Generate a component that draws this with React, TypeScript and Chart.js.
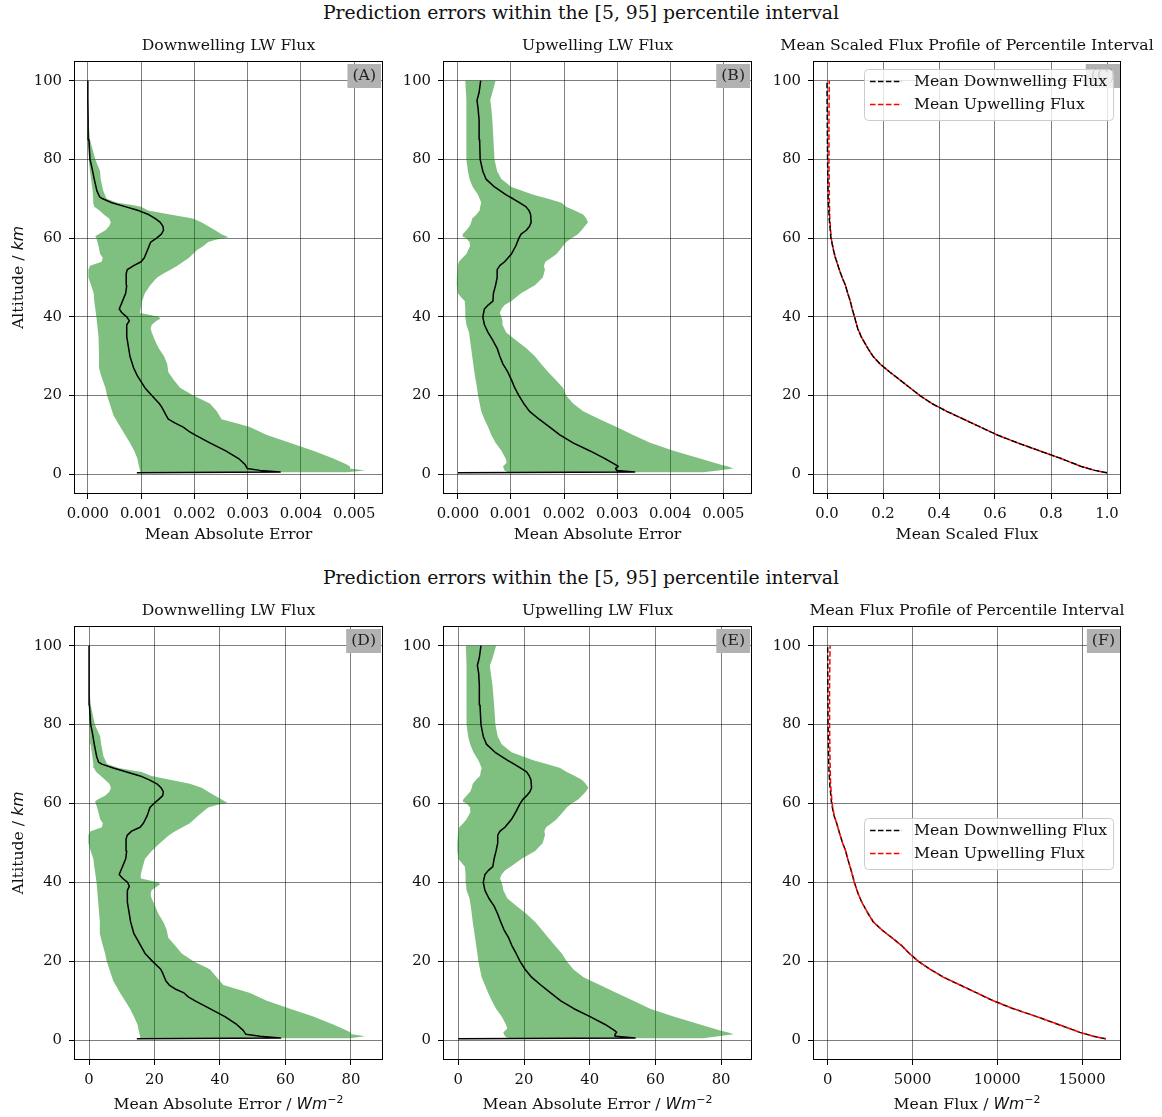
import React, { useEffect, useRef } from 'react';
import { Chart, registerables } from 'chart.js';

Chart.register(...registerables);

const SERIF = "'DejaVu Serif', serif";
const SANS = "'DejaVu Sans', sans-serif";
const FS = 15.7;      // titles, axis labels, legend
const FS_TICK = 14.8; // tick labels
const TXT = '#111';

type Pair = [number, number]; // [altitude km, value]

// ---------- tick values ----------
const Y_TICKS = [0, 20, 40, 60, 80, 100];
const X_TICKS_MAE = [0, 0.001, 0.002, 0.003, 0.004, 0.005];
const X_TICKS_SCALED = [0, 0.2, 0.4, 0.6, 0.8, 1.0];
const X_TICKS_MAE_W = [0, 20, 40, 60, 80];
const X_TICKS_FLUX = [0, 5000, 10000, 15000];

// ---------- (A) downwelling, scaled MAE ----------
const A_MEAN: Pair[] = [
  [0.4, 0.00092], [0.6, 0.00361], [1, 0.00323], [1.5, 0.00299], [2.5, 0.00295], [4, 0.00283], [6, 0.00258],
  [8, 0.00229], [10, 0.00201], [11, 0.00189], [12, 0.00179], [13, 0.00164], [14, 0.00151], [15, 0.00147],
  [17, 0.00139], [18, 0.00134], [20, 0.0012], [22, 0.00107], [25, 0.00093], [27, 0.00086], [30, 0.00079],
  [35, 0.00073], [38, 0.00073], [39, 0.00078], [40, 0.00073], [41, 0.00064], [42, 0.00059], [44, 0.00065],
  [46, 0.00071], [48, 0.00073], [50, 0.00072], [51, 0.00072], [52, 0.00074], [53, 0.00086], [54, 0.001],
  [55, 0.00106], [57, 0.00112], [59, 0.00118], [60, 0.00129], [61, 0.00138], [62, 0.00142], [63, 0.00141],
  [64, 0.00136], [65, 0.00126], [66, 0.00114], [67, 0.00095], [68, 0.0007], [69, 0.00045], [70, 0.00028],
  [70.5, 0.00022], [72, 0.00017], [75, 0.00012], [78, 0.000075], [80, 0.00004], [85, 0.00002], [90, 0.000005],
  [95, 0], [100, 0],
];
const A_LOW: Pair[] = [
  [0.5, 0.00098], [1, 0.00098], [2, 0.00096], [4, 0.00093], [6, 0.00087], [8, 0.00079], [10, 0.0007],
  [12, 0.00061], [15, 0.00048], [18, 0.00041], [20, 0.00036], [22, 0.00033], [25, 0.00025], [27, 0.00021],
  [30, 0.00021], [35, 0.0002], [40, 0.00016], [44, 0.00012], [46, 0.00011], [48, 0.00006], [50, 0.00001],
  [52, 0.00001], [53, 0.00004], [54, 0.00026], [55, 0.00028], [56, 0.00023], [58, 0.0002], [60, 0.00016],
  [60.5, 0.00014], [61, 0.0002], [62, 0.00033], [63, 0.0004], [64, 0.00043], [65, 0.0004], [66, 0.0003],
  [67, 0.00022], [68, 0.00012], [69, 0.0001], [70, 0.0001], [72, 0.00009], [75, 0.00006], [78, 0.00003],
  [80, 0.00002], [85, 0], [100, 0],
];
const A_HIGH: Pair[] = [
  [0.5, 0.00486], [1, 0.0052], [1.5, 0.00492], [2, 0.00492], [2.5, 0.00486], [4, 0.00461], [6, 0.00423],
  [8, 0.00379], [10, 0.00336], [12, 0.00304], [13, 0.00279], [14, 0.00251], [16, 0.00242], [18, 0.00229],
  [20, 0.00198], [22, 0.00173], [24, 0.00161], [26, 0.00151], [28, 0.00149], [30, 0.00143], [32, 0.00133],
  [34, 0.00126], [36, 0.0012], [37, 0.00118], [38, 0.0012], [39, 0.00129], [39.5, 0.00136], [40, 0.00133],
  [40.5, 0.00117], [41, 0.00098], [42, 0.00099], [44, 0.00102], [46, 0.00107], [48, 0.00117], [50, 0.0013],
  [51, 0.00142], [52, 0.00155], [53, 0.00168], [55, 0.0019], [57, 0.00205], [58, 0.00217], [59, 0.00226],
  [59.6, 0.0024], [60.2, 0.00264], [61, 0.00251], [62, 0.00239], [63, 0.00226], [64, 0.00214], [65, 0.00197],
  [66, 0.00154], [67, 0.00113], [68, 0.001], [68.5, 0.0008], [69, 0.00055], [70, 0.00035], [72, 0.00029],
  [75, 0.00024], [77, 0.00023], [80, 0.00014], [85, 0.00004], [90, 0.00001], [100, 0],
];

// ---------- (B) upwelling, scaled MAE ----------
const B_MEAN: Pair[] = [
  [0.4, 0], [0.6, 0.00333], [1, 0.00299], [1.5, 0.00297], [2, 0.00302], [2.5, 0.00296], [4, 0.00277],
  [6, 0.00248], [8, 0.00217], [10, 0.00192], [12, 0.00173], [14, 0.00153], [16, 0.00135], [18, 0.00124],
  [20, 0.00115], [22, 0.00107], [24, 0.00101], [26, 0.00094], [28, 0.00085], [30, 0.00079], [32, 0.00074],
  [34, 0.00066], [36, 0.00057], [38, 0.0005], [40, 0.00047], [42, 0.0005], [43, 0.00057], [44, 0.00066],
  [46, 0.00067], [48, 0.00071], [50, 0.00074], [52, 0.00074], [53, 0.00079], [54, 0.00088], [56, 0.00101],
  [58, 0.00109], [60, 0.00115], [61, 0.00119], [62, 0.00129], [63, 0.00135], [64, 0.00138], [66, 0.00137],
  [67, 0.00134], [68, 0.00128], [69, 0.00116], [70, 0.00104], [71, 0.00091], [73, 0.00069], [75, 0.00053],
  [77, 0.00047], [80, 0.00042], [85, 0.00041], [90, 0.0004], [93, 0.00038], [95, 0.00036], [97, 0.0004],
  [100, 0.00043],
];
const B_LOW: Pair[] = [
  [0.5, 0.00094], [1, 0.00088], [2, 0.00085], [3, 0.00092], [4, 0.0009], [6, 0.00082], [8, 0.00071],
  [10, 0.00063], [12, 0.00057], [14, 0.0005], [16, 0.00044], [20, 0.00038], [22, 0.00036], [26, 0.00031],
  [30, 0.00027], [34, 0.00023], [36, 0.00021], [38, 0.00016], [40, 0.00014], [42, 0.00014], [44, 0.00013],
  [45, 0.00006], [46, 0], [48, -0.00002], [50, -0.00002], [53, 0], [54, 0.00002], [55, 0.00009], [56, 0.00016],
  [58, 0.00023], [59, 0.00022], [60, 0.00016], [60.5, 0.00008], [61, 0.00009], [62, 0.00016], [63, 0.00022],
  [64, 0.00025], [65, 0.00027], [66, 0.00035], [67, 0.00041], [68, 0.00042], [69, 0.00044], [70, 0.00041],
  [71, 0.00038], [73, 0.00028], [75, 0.00022], [77, 0.00019], [80, 0.00016], [85, 0.00016], [90, 0.00016],
  [95, 0.00016], [100, 0.00014],
];
const B_HIGH: Pair[] = [
  [0.5, 0.00462], [1, 0.00491], [1.5, 0.00519], [2, 0.00509], [2.5, 0.00494], [4, 0.00456], [6, 0.00406],
  [8, 0.00362], [10, 0.0033], [12, 0.00299], [14, 0.00267], [16, 0.00236], [18, 0.00217], [20, 0.00204],
  [22, 0.00198], [24, 0.00184], [26, 0.0017], [28, 0.00157], [30, 0.00145], [32, 0.00129], [34, 0.0011],
  [36, 0.00091], [38, 0.00084], [39, 0.00084], [40, 0.00082], [41, 0.00079], [42, 0.00082], [43, 0.00088],
  [44, 0.00101], [46, 0.00119], [48, 0.00145], [50, 0.0016], [52, 0.00164], [53, 0.00162], [54, 0.00165],
  [55, 0.00176], [56, 0.00186], [58, 0.00198], [59, 0.00204], [60, 0.00214], [61, 0.00226], [62, 0.00233],
  [63, 0.00239], [64, 0.00245], [65, 0.00242], [66, 0.00236], [67, 0.0022], [68, 0.00204], [69, 0.00195],
  [70, 0.0017], [71, 0.00142], [73, 0.00101], [75, 0.00082], [77, 0.00074], [80, 0.00069], [85, 0.00067],
  [90, 0.00065], [93, 0.00063], [95, 0.00061], [97, 0.00065], [100, 0.00071],
];

// ---------- (C) mean scaled flux profile ----------
const C_ALT = [0.4, 1, 2, 4, 6, 8, 10, 12, 14, 16, 18, 20, 22, 24, 26, 28, 30, 32, 35, 37, 40, 42, 44, 46, 48, 50, 52, 55, 57, 60, 65, 70, 80, 90, 100];
const C_DOWN = [1.0, 0.956, 0.908, 0.836, 0.758, 0.68, 0.608, 0.548, 0.488, 0.428, 0.374, 0.332, 0.296, 0.26, 0.224, 0.19, 0.164, 0.146, 0.122, 0.11, 0.098, 0.09, 0.083, 0.074, 0.066, 0.054, 0.044, 0.03, 0.023, 0.014, 0.008, 0.004, 0.002, 0.001, 0.0];
const C_UP = [1.0, 0.956, 0.908, 0.836, 0.758, 0.68, 0.608, 0.548, 0.488, 0.428, 0.374, 0.332, 0.296, 0.26, 0.224, 0.19, 0.164, 0.146, 0.122, 0.11, 0.098, 0.09, 0.083, 0.074, 0.066, 0.054, 0.044, 0.03, 0.023, 0.015, 0.01, 0.008, 0.007, 0.007, 0.008];

// ---------- (D) downwelling, MAE in W m-2 ----------
const D_MEAN: Pair[] = [
  [0.4, 14.6], [0.6, 58.5], [1, 52.2], [1.5, 47.9], [2.5, 47.1], [4, 45.1], [6, 41.5], [8, 36.9], [10, 32.4],
  [11, 30.3], [12, 29], [13, 26.3], [14, 24.5], [15, 23.5], [17, 22.5], [18, 21.9], [20, 19.4], [22, 17.1],
  [25, 15.1], [27, 13.7], [30, 12.7], [35, 11.7], [38, 11.7], [39, 12.3], [40, 11.8], [41, 10.3], [42, 9.2],
  [44, 10.2], [46, 11.2], [48, 11.5], [50, 11.3], [51, 11.3], [52, 11.7], [53, 13], [54, 15.6], [55, 16.6],
  [57, 17.8], [59, 18.6], [60, 19.8], [61, 21.2], [62, 22.5], [63, 22.7], [64, 22], [65, 20.7], [66, 18.4],
  [67, 15.6], [68, 11.5], [69, 7.4], [70, 3.9], [70.5, 2.9], [72, 2.3], [75, 1.6], [78, 1.0], [80, 0.5],
  [85, 0.1], [90, 0], [100, 0],
];
const D_LOW: Pair[] = [
  [0.5, 15.6], [1, 15.6], [2, 15.3], [4, 14.8], [6, 13.7], [8, 12.5], [10, 11], [12, 9.5], [15, 7.4], [18, 6.2],
  [20, 5.4], [22, 4.9], [25, 3.9], [27, 3.3], [30, 3.3], [35, 2.8], [40, 2.3], [44, 1.6], [46, 1.3], [48, 0.5],
  [50, -0.2], [52, -0.2], [53, 0.5], [54, 3.9], [55, 4.2], [56, 3.4], [58, 2.8], [60, 2.1], [60.5, 1.8],
  [61, 2.6], [62, 4.9], [63, 6.2], [64, 6.7], [65, 6.2], [66, 4.9], [67, 3.6], [68, 2.2], [69, 1.5], [70, 1.3],
  [72, 1.0], [75, 0.5], [78, 0.3], [80, 0.2], [85, 0], [100, 0],
];
const D_HIGH: Pair[] = [
  [0.5, 79.7], [1, 84.3], [1.5, 80.2], [2, 79.9], [2.5, 78.7], [4, 74.6], [6, 68.5], [8, 61.4], [10, 54.3],
  [12, 49.2], [13, 45.1], [14, 41], [16, 39], [18, 36.9], [20, 31.9], [22, 28.3], [24, 26.3], [26, 24.2],
  [28, 23.7], [30, 22.7], [32, 21.2], [34, 20.2], [36, 19.1], [37, 18.8], [38, 19.1], [39, 20.7], [39.5, 21.7],
  [40, 21.2], [40.5, 18.6], [41, 15.8], [42, 15.8], [44, 16.4], [46, 17.1], [48, 19.1], [50, 21.7], [52, 24.5],
  [53, 26.3], [55, 30.8], [57, 33.4], [58, 34.9], [59, 36.4], [59.6, 39], [60.2, 42.2], [61, 40.5], [62, 38.5],
  [63, 36.4], [64, 34.4], [65, 30.8], [66, 24.7], [67, 19.1], [68, 16.1], [68.5, 12.5], [69, 9], [70, 5.5],
  [72, 4.4], [75, 3.7], [77, 3.4], [80, 1.8], [85, 0.5], [90, 0.2], [100, 0],
];

// ---------- (E) upwelling, MAE in W m-2 ----------
const E_MEAN: Pair[] = [
  [0.4, 0], [0.6, 53.8], [1, 48], [1.5, 47.7], [2, 48.2], [2.5, 47.5], [4, 44.7], [6, 40.1], [8, 35.2],
  [10, 31.2], [12, 28.1], [14, 25.1], [16, 22.3], [18, 20.3], [20, 18.8], [22, 17.6], [24, 16.3], [26, 15.3],
  [28, 13.9], [30, 12.9], [32, 12], [34, 10.9], [36, 9.3], [38, 8.1], [40, 7.6], [42, 8.1], [43, 9.1],
  [44, 10.5], [46, 10.9], [48, 11.5], [50, 12], [52, 12], [53, 12.7], [54, 14.2], [56, 16.2], [58, 17.6],
  [60, 18.8], [61, 19.6], [62, 20.8], [63, 21.8], [64, 22.3], [66, 22.1], [67, 21.6], [68, 20.8], [69, 19],
  [70, 17], [71, 14.9], [73, 11.2], [75, 8.6], [77, 7.6], [80, 6.9], [85, 6.6], [90, 6.4], [93, 6.2],
  [95, 5.8], [97, 6.4], [100, 6.9],
];
const E_LOW: Pair[] = [
  [0.5, 15.2], [1, 14.2], [2, 13.7], [3, 14.9], [4, 14.5], [6, 13.2], [8, 11.5], [10, 10.2], [12, 9.1],
  [14, 8.1], [16, 7.1], [20, 6.1], [22, 5.8], [26, 5.1], [30, 4.4], [34, 3.8], [36, 3.4], [38, 2.5], [40, 2.3],
  [42, 2.2], [44, 2], [45, 1], [46, 0], [48, -0.3], [50, -0.3], [53, 0], [54, 0.3], [55, 1.5], [56, 2.5],
  [58, 3.8], [59, 3.6], [60, 2.5], [60.5, 1.3], [61, 1.5], [62, 2.5], [63, 3.6], [64, 4.1], [65, 4.4],
  [66, 5.4], [67, 6.6], [68, 6.8], [69, 7.1], [70, 6.6], [71, 6.1], [73, 4.6], [75, 3.6], [77, 3], [80, 2.5],
  [85, 2.5], [90, 2.5], [95, 2.5], [100, 2.3],
];
const E_HIGH: Pair[] = [
  [0.5, 74.6], [1, 79.2], [1.5, 83.8], [2, 82.2], [2.5, 79.7], [4, 73.6], [6, 65.5], [8, 58.4], [10, 53.3],
  [12, 48.2], [14, 43.1], [16, 38.1], [18, 35], [20, 33], [22, 31.5], [24, 29.4], [26, 27.4], [28, 25.4],
  [30, 23.4], [32, 20.8], [34, 17.8], [36, 14.9], [38, 13.7], [39, 13.5], [40, 13.2], [41, 12.7], [42, 13.2],
  [43, 14.2], [44, 15.9], [46, 19.3], [48, 23.4], [50, 25.7], [52, 26.4], [53, 26.2], [54, 26.7], [55, 28.4],
  [56, 29.9], [58, 32], [59, 33], [60, 34.5], [61, 36.5], [62, 37.6], [63, 38.8], [64, 39.6], [65, 38.8],
  [66, 37.6], [67, 35.5], [68, 33], [69, 31], [70, 26.9], [71, 22.8], [73, 16.2], [75, 13.2], [77, 12],
  [80, 11.3], [85, 10.9], [90, 10.4], [93, 9.9], [95, 9.6], [97, 10.5], [100, 11.5],
];

// ---------- (F) mean flux profile ----------
const F_ALT = [0.4, 1, 2, 4, 6, 8, 10, 12, 14, 16, 18, 20, 22, 24, 26, 28, 30, 32, 35, 37, 40, 42, 44, 46, 48, 50, 52, 55, 57, 60, 65, 70, 80, 90, 100];
const F_DOWN = [16400, 15670, 14880, 13610, 12330, 10950, 9770, 8790, 7810, 6820, 6040, 5350, 4820, 4360, 3780, 3190, 2690, 2400, 2010, 1810, 1570, 1450, 1320, 1180, 1060, 880, 730, 530, 370, 230, 120, 60, 20, 10, 0];
const F_UP = [16400, 15670, 14880, 13610, 12330, 10950, 9770, 8790, 7810, 6820, 6040, 5350, 4820, 4360, 3780, 3190, 2690, 2400, 2010, 1810, 1570, 1450, 1320, 1180, 1060, 880, 730, 530, 380, 260, 170, 140, 110, 110, 140];

// ---------- helpers ----------
type Seg = { t: string; it?: boolean; sans?: boolean; sup?: boolean };
const ALT_LABEL: Seg[] = [{ t: 'Altitude / ' }, { t: 'km', it: true, sans: true }];
const UNIT: Seg[] = [{ t: 'Wm', it: true, sans: true }, { t: '\u22122', sans: true, sup: true }];

const pairsToPts = (arr: Pair[]) => arr.map(([alt, v]) => ({ x: v, y: alt }));
const colsToPts = (alt: number[], v: number[]) => alt.map((a, i) => ({ x: v[i], y: a }));

function band(low: Pair[], high: Pair[]) {
  return {
    data: [...pairsToPts(low), ...pairsToPts(high.slice().reverse())],
    indexAxis: 'y', fill: 'shape', backgroundColor: 'rgba(0,128,0,0.5)',
    borderColor: 'rgba(0,0,0,0)', borderWidth: 0, pointRadius: 0, order: 2,
  };
}
function meanLine(m: Pair[]) {
  return {
    data: pairsToPts(m), indexAxis: 'y', fill: false, borderColor: '#000', borderWidth: 1.5,
    pointRadius: 0, order: 1, borderJoinStyle: 'round',
  };
}
function dashed(alt: number[], v: number[], color: string, order: number, offset: number) {
  return {
    data: colsToPts(alt, v), indexAxis: 'y', fill: false, borderColor: color, borderWidth: 1.5,
    borderDash: [5.55, 2.4], borderDashOffset: offset, pointRadius: 0, order,
  };
}

function drawSegs(ctx: CanvasRenderingContext2D, segs: Seg[], cx: number, cy: number, rot: number) {
  const fontFor = (s: Seg) => `${s.it ? 'italic ' : ''}${s.sup ? FS * 0.7 : FS}px ${s.sans ? SANS : SERIF}`;
  let total = 0;
  const widths = segs.map((s) => { ctx.font = fontFor(s); const w = ctx.measureText(s.t).width; total += w; return w; });
  ctx.save();
  ctx.translate(cx, cy);
  ctx.rotate(rot);
  ctx.textAlign = 'left';
  ctx.textBaseline = 'alphabetic';
  ctx.fillStyle = TXT;
  let x = -total / 2;
  const baseY = FS * 0.36;
  segs.forEach((s, i) => {
    ctx.font = fontFor(s);
    ctx.fillText(s.t, x, s.sup ? baseY - FS * 0.42 : baseY);
    x += widths[i];
  });
  ctx.restore();
}

interface LegendSpec { loc: 'upper right' | 'center right'; items: { label: string; color: string }[] }
interface PanelSpec {
  id: string; L: number; T: number; R: number; B: number;
  xMin: number; xMax: number; xTicks: number[]; fmt: (v: number) => string;
  title: string; xLabel: Seg[]; xLabelDy: number; yLabel: boolean; tag: string; tagInset: number;
  datasets: any[]; legend?: LegendSpec;
}

const LEGEND_ITEMS = [
  { label: 'Mean Downwelling Flux', color: '#000' },
  { label: 'Mean Upwelling Flux', color: '#f00' },
];

const PANELS: PanelSpec[] = [
  {
    id: 'A', L: 74, T: 61, R: 383, B: 494, xMin: -0.00026, xMax: 0.00554, xTicks: X_TICKS_MAE,
    fmt: (v) => v.toFixed(3), title: 'Downwelling LW Flux', xLabel: [{ t: 'Mean Absolute Error' }], xLabelDy: 39.5,
    yLabel: true, tag: '(A)', tagInset: 2, datasets: [meanLine(A_MEAN), band(A_LOW, A_HIGH)],
  },
  {
    id: 'B', L: 443, T: 61, R: 752, B: 494, xMin: -0.00028, xMax: 0.00554, xTicks: X_TICKS_MAE,
    fmt: (v) => v.toFixed(3), title: 'Upwelling LW Flux', xLabel: [{ t: 'Mean Absolute Error' }], xLabelDy: 39.5,
    yLabel: false, tag: '(B)', tagInset: 2, datasets: [meanLine(B_MEAN), band(B_LOW, B_HIGH)],
  },
  {
    id: 'C', L: 813, T: 61, R: 1121, B: 494, xMin: -0.05, xMax: 1.05, xTicks: X_TICKS_SCALED,
    fmt: (v) => v.toFixed(1), title: 'Mean Scaled Flux Profile of Percentile Interval', xLabel: [{ t: 'Mean Scaled Flux' }],
    xLabelDy: 39.5, yLabel: false, tag: '(C)', tagInset: 1,
    datasets: [dashed(C_ALT, C_DOWN, '#000', 1, 0), dashed(C_ALT, C_UP, '#f00', 2, 4)],
    legend: { loc: 'upper right', items: LEGEND_ITEMS },
  },
  {
    id: 'D', L: 74, T: 626, R: 383, B: 1060, xMin: -4.6, xMax: 89.8, xTicks: X_TICKS_MAE_W,
    fmt: (v) => String(Math.round(v)), title: 'Downwelling LW Flux', xLabel: [{ t: 'Mean Absolute Error / ' }, ...UNIT],
    xLabelDy: 43.5, yLabel: true, tag: '(D)', tagInset: 2, datasets: [meanLine(D_MEAN), band(D_LOW, D_HIGH)],
  },
  {
    id: 'E', L: 443, T: 626, R: 752, B: 1060, xMin: -4.66, xMax: 89.4, xTicks: X_TICKS_MAE_W,
    fmt: (v) => String(Math.round(v)), title: 'Upwelling LW Flux', xLabel: [{ t: 'Mean Absolute Error / ' }, ...UNIT],
    xLabelDy: 43.5, yLabel: false, tag: '(E)', tagInset: 2, datasets: [meanLine(E_MEAN), band(E_LOW, E_HIGH)],
  },
  {
    id: 'F', L: 813, T: 626, R: 1121, B: 1060, xMin: -867, xMax: 17300, xTicks: X_TICKS_FLUX,
    fmt: (v) => String(Math.round(v)), title: 'Mean Flux Profile of Percentile Interval', xLabel: [{ t: 'Mean Flux / ' }, ...UNIT],
    xLabelDy: 43.5, yLabel: false, tag: '(F)', tagInset: 1,
    datasets: [dashed(F_ALT, F_DOWN, '#000', 2, 0), dashed(F_ALT, F_UP, '#f00', 1, 4)],
    legend: { loc: 'center right', items: LEGEND_ITEMS },
  },
];

const PAD_L = 70, PAD_R = 70, PAD_T = 40, PAD_B = 60;

function makeDecor(spec: PanelSpec) {
  return {
    id: 'decor' + spec.id,
    afterDraw(chart: any) {
      const ctx: CanvasRenderingContext2D = chart.ctx;
      const a = chart.chartArea;
      ctx.save();
      // axes frame (all four spines)
      ctx.strokeStyle = '#000';
      ctx.lineWidth = 1;
      ctx.setLineDash([]);
      ctx.strokeRect(a.left + 0.5, a.top + 0.5, a.right - a.left - 1, a.bottom - a.top - 1);

      // panel tag box
      ctx.font = `${FS}px ${SERIF}`;
      const tw = ctx.measureText(spec.tag).width;
      const bw = tw + 10, bh = 24;
      const bx = a.right - spec.tagInset - bw, by = a.top + 3;
      ctx.fillStyle = '#b2b2b2';
      ctx.fillRect(bx, by, bw, bh);
      ctx.fillStyle = '#222';
      ctx.textAlign = 'center';
      ctx.textBaseline = 'middle';
      ctx.fillText(spec.tag, bx + bw / 2, by + bh / 2);

      // legend
      if (spec.legend) {
        const items = spec.legend.items;
        ctx.font = `${FS}px ${SERIF}`;
        const lw = Math.max(...items.map((i) => ctx.measureText(i.label).width));
        const w = 6 + 32 + 12 + lw + 6, h = 51;
        const x0 = Math.round(a.right - 8 - w);
        const y0 = Math.round(spec.legend.loc === 'upper right' ? a.top + 8 : (a.top + a.bottom) / 2 - h / 2);
        ctx.beginPath();
        (ctx as any).roundRect(x0 + 0.5, y0 + 0.5, w, h, 4);
        ctx.fillStyle = 'rgba(255,255,255,0.8)';
        ctx.fill();
        ctx.strokeStyle = '#cccccc';
        ctx.lineWidth = 1;
        ctx.stroke();
        items.forEach((it, i) => {
          const yy = y0 + 12.5 + i * 23;
          ctx.beginPath();
          ctx.setLineDash([5.55, 2.4]);
          ctx.strokeStyle = it.color;
          ctx.lineWidth = 1.5;
          ctx.moveTo(x0 + 6, yy);
          ctx.lineTo(x0 + 38, yy);
          ctx.stroke();
          ctx.setLineDash([]);
          ctx.fillStyle = TXT;
          ctx.textAlign = 'left';
          ctx.textBaseline = 'middle';
          ctx.fillText(it.label, x0 + 50, yy);
        });
      }

      // axis titles
      drawSegs(ctx, spec.xLabel, (a.left + a.right) / 2, a.bottom + spec.xLabelDy, 0);
      if (spec.yLabel) drawSegs(ctx, ALT_LABEL, a.left - 56.5, (a.top + a.bottom) / 2, -Math.PI / 2);
      ctx.restore();
    },
  };
}

function buildConfig(spec: PanelSpec): any {
  const tickFont = { family: SERIF, size: FS_TICK };
  const grid = { color: 'rgba(0,0,0,0.5)', lineWidth: 1, drawTicks: true, tickLength: 5, tickColor: '#000', tickWidth: 1 };
  const lh = FS * 1.2;
  const padTop = 25 - lh / 2;
  return {
    type: 'line',
    data: { datasets: spec.datasets.map((d) => ({ ...d, xAxisID: 'x', yAxisID: 'y' })) },
    options: {
      responsive: false,
      maintainAspectRatio: false,
      animation: false,
      devicePixelRatio: 1,
      events: [],
      layout: { padding: 0 },
      elements: { line: { tension: 0 }, point: { radius: 0 } },
      plugins: {
        legend: { display: false },
        tooltip: { enabled: false },
        title: {
          display: true, text: spec.title, color: TXT,
          font: { family: SERIF, size: FS, weight: 'normal', lineHeight: 1.2 },
          padding: { top: padTop, bottom: PAD_T - padTop - lh },
        },
      },
      scales: {
        x: {
          type: 'linear', position: 'bottom', min: spec.xMin, max: spec.xMax,
          afterBuildTicks: (s: any) => { s.ticks = spec.xTicks.map((v) => ({ value: v })); },
          afterFit: (s: any) => { s.height = PAD_B; },
          ticks: { font: tickFont, color: TXT, padding: 6, maxRotation: 0, minRotation: 0, autoSkip: false, callback: (v: any) => spec.fmt(Number(v)) },
          grid, border: { display: false },
        },
        y: {
          type: 'linear', position: 'left', min: -5, max: 105,
          afterBuildTicks: (s: any) => { s.ticks = Y_TICKS.map((v) => ({ value: v })); },
          afterFit: (s: any) => { s.width = PAD_L; },
          ticks: { font: tickFont, color: TXT, padding: 7, autoSkip: false, callback: (v: any) => String(v) },
          grid, border: { display: false },
        },
        yR: {
          type: 'linear', position: 'right', display: true,
          afterFit: (s: any) => { s.width = PAD_R; },
          ticks: { display: false }, grid: { display: false }, border: { display: false },
        },
      },
    },
    plugins: [makeDecor(spec)],
  };
}

function Panel({ spec }: { spec: PanelSpec }) {
  const ref = useRef<HTMLCanvasElement>(null);
  const w = spec.R - spec.L + PAD_L + PAD_R;
  const h = spec.B - spec.T + PAD_T + PAD_B;
  useEffect(() => {
    const chart = new Chart(ref.current as HTMLCanvasElement, buildConfig(spec));
    return () => chart.destroy();
  }, [spec]);
  return (
    <canvas
      ref={ref}
      width={w}
      height={h}
      style={{ position: 'absolute', left: spec.L - PAD_L, top: spec.T - PAD_T, width: w, height: h }}
    />
  );
}

const SUPTITLE = 'Prediction errors within the [5, 95] percentile interval';

export default function App() {
  const sup: React.CSSProperties = {
    position: 'absolute', left: 0, width: 1162, textAlign: 'center', fontFamily: SERIF,
    fontSize: 18.8, lineHeight: '24px', color: TXT, whiteSpace: 'nowrap',
  };
  return (
    <div style={{ position: 'absolute', left: 0, top: 0, width: 1162, height: 1117, overflow: 'hidden', background: '#fff' }}>
      <div style={{ ...sup, top: 1 }}>{SUPTITLE}</div>
      <div style={{ ...sup, top: 566 }}>{SUPTITLE}</div>
      {PANELS.map((p) => <Panel key={p.id} spec={p} />)}
    </div>
  );
}
